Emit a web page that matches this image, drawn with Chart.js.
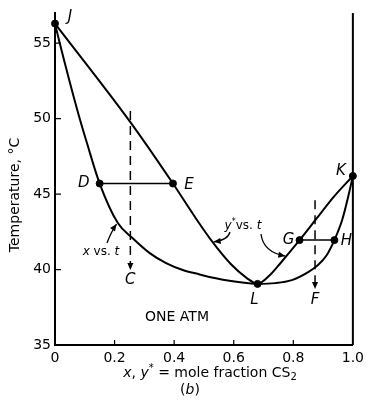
<!DOCTYPE html>
<html>
<head>
<meta charset="utf-8">
<script src="https://cdn.jsdelivr.net/npm/chart.js@4"></script>
<style>
  body { margin: 0; background: #fff; }
  #wrap { width: 369px; height: 408px; }
</style>
</head>
<body>
<div id="wrap"><canvas id="chart"></canvas></div>
<script>
// liquid curve (x vs. t)
const xLiquid = [0, 0.016, 0.075, 0.107, 0.15, 0.211, 0.26, 0.318, 0.373, 0.429, 0.481, 0.536, 0.591, 0.643, 0.68, 0.74, 0.795, 0.85, 0.883, 0.912, 0.938, 0.964, 0.984, 1.0];
const tLiquid = [56.3, 55.0, 50.56, 48.4, 45.7, 43.08, 42.09, 41.09, 40.43, 39.97, 39.7, 39.44, 39.24, 39.11, 39.05, 39.1, 39.3, 39.83, 40.3, 40.95, 41.95, 43.28, 44.8, 46.2];
// vapor curve (y* vs. t)
const xVapor = [0, 0.253, 0.396, 0.471, 0.526, 0.591, 0.643, 0.68, 0.72, 0.76, 0.821, 0.877, 0.935, 1.0];
const tVapor = [56.3, 49.77, 45.7, 43.45, 41.9, 40.35, 39.45, 39.05, 39.6, 40.5, 41.95, 43.35, 44.8, 46.2];
// named points
const pointNames = ["J", "D", "E", "G", "H", "K", "L"];
const pointX = [0, 0.15, 0.396, 0.821, 0.938, 1.0, 0.68];
const pointT = [56.3, 45.7, 45.7, 41.95, 41.95, 46.2, 39.05];
// feed lines C and F
const feedCX = [0.253, 0.253];
const feedCT = [50.5, 40.1];
const feedFX = [0.873, 0.873];
const feedFT = [44.6, 38.85];
// ticks
const xTicks = [0, 0.2, 0.4, 0.6, 0.8, 1.0];
const xTickLabels = ["0", "0.2", "0.4", "0.6", "0.8", "1.0"];
const tTicks = [35, 40, 45, 50, 55];
const tTickLabels = ["35", "40", "45", "50", "55"];

const pts = (xs, ys) => xs.map((v, i) => ({ x: v, y: ys[i] }));
const FONT = "'DejaVu Sans', Arial, sans-serif";

function line(data, extra) {
  return Object.assign({
    data: data, showLine: true, borderColor: "#000", borderWidth: 2,
    pointRadius: 0, fill: false, clip: 6
  }, extra || {});
}

function arrowHead(ctx, x, y, ang) {
  const l = 7, w = 3;
  ctx.beginPath();
  ctx.moveTo(x, y);
  ctx.lineTo(x - l * Math.cos(ang) + w * Math.sin(ang), y - l * Math.sin(ang) - w * Math.cos(ang));
  ctx.lineTo(x - l * Math.cos(ang) - w * Math.sin(ang), y - l * Math.sin(ang) + w * Math.cos(ang));
  ctx.closePath();
  ctx.fill();
}

function curvedArrow(ctx, x0, y0, cx, cy, x1, y1) {
  ctx.beginPath();
  ctx.moveTo(x0, y0);
  ctx.quadraticCurveTo(cx, cy, x1, y1);
  ctx.stroke();
  arrowHead(ctx, x1, y1, Math.atan2(y1 - cy, x1 - cx));
}

// draws pieces [text, style] one after another, centred on cx
function richText(ctx, parts, cx, cy, size) {
  const fontOf = p => (p[1] === "i" ? "italic " : "") + (p[1] === "sup" || p[1] === "sub" ? Math.round(size * 0.7) : size) + "px " + FONT;
  let total = 0;
  parts.forEach(p => { ctx.font = fontOf(p); total += ctx.measureText(p[0]).width; });
  let xx = cx - total / 2;
  ctx.textAlign = "left";
  ctx.textBaseline = "middle";
  parts.forEach(p => {
    ctx.font = fontOf(p);
    let dy = 0;
    if (p[1] === "sup") dy = -size * 0.35;
    if (p[1] === "sub") dy = size * 0.3;
    ctx.fillText(p[0], xx, cy + dy);
    xx += ctx.measureText(p[0]).width;
  });
}

const overlay = {
  id: "overlay",
  afterDraw(chart) {
    const { ctx, chartArea: a, scales: { x, y } } = chart;
    const px = v => x.getPixelForValue(v), py = v => y.getPixelForValue(v);
    ctx.save();
    ctx.strokeStyle = "#000";
    ctx.fillStyle = "#000";

    // right frame line
    ctx.lineWidth = 2;
    ctx.beginPath();
    ctx.moveTo(a.right, a.top);
    ctx.lineTo(a.right, a.bottom);
    ctx.stroke();

    // inward ticks
    ctx.lineWidth = 1.2;
    ctx.beginPath();
    xTicks.slice(1, -1).forEach(v => { ctx.moveTo(px(v), a.bottom); ctx.lineTo(px(v), a.bottom - 5); });
    tTicks.slice(1).forEach(v => { ctx.moveTo(a.left, py(v)); ctx.lineTo(a.left + 6, py(v)); });
    ctx.stroke();

    // arrowheads at the feed lines
    arrowHead(ctx, px(feedCX[1]), py(feedCT[1]) + 2, Math.PI / 2);
    arrowHead(ctx, px(feedFX[1]), py(feedFT[1]) + 2, Math.PI / 2);

    // point letters
    const offs = { J: [15, -6], D: [-16, 0], E: [16, 2], G: [-11, 0], H: [12, 1], K: [-12, -5], L: [-3, 16] };
    ctx.font = "italic 15px " + FONT;
    ctx.textAlign = "center";
    ctx.textBaseline = "middle";
    pointNames.forEach((n, i) => {
      ctx.fillText(n, px(pointX[i]) + offs[n][0], py(pointT[i]) + offs[n][1]);
    });
    ctx.fillText("C", px(feedCX[1]), py(feedCT[1]) + 12);
    ctx.fillText("F", px(feedFX[1]), py(feedFT[1]) + 13);

    // curve annotations
    richText(ctx, [["x", "i"], [" vs. ", ""], ["t", "i"]], 101, 252, 12);
    richText(ctx, [["y", "i"], ["*", "sup"], ["vs. ", ""], ["t", "i"]], 243, 226, 12);
    ctx.lineWidth = 1.3;
    curvedArrow(ctx, 107, 243, 111, 232, px(0.21) - 1, py(43.08) + 1);
    curvedArrow(ctx, 230, 232, 228, 240, px(0.526) + 2, py(41.9) + 1);
    curvedArrow(ctx, 261, 234, 263, 252, px(0.78) - 2, py(40.96) + 1);

    ctx.font = "14px " + FONT;
    ctx.textAlign = "center";
    ctx.fillText("ONE ATM", 177, 317);

    // axis titles
    ctx.save();
    ctx.translate(15, 195);
    ctx.rotate(-Math.PI / 2);
    ctx.font = "14px " + FONT;
    ctx.fillText("Temperature, \u00B0C", 0, 0);
    ctx.restore();
    richText(ctx, [["x", "i"], [", ", ""], ["y", "i"], ["*", "sup"], [" = mole fraction CS", ""], ["2", "sub"]], 210, 373, 14);
    richText(ctx, [["(", ""], ["b", "i"], [")", ""]], 190, 390, 14);
    ctx.restore();
  }
};

new Chart(document.getElementById("chart"), {
  type: "scatter",
  data: {
    datasets: [
      line(pts(xLiquid, tLiquid), { cubicInterpolationMode: "monotone" }),
      line(pts(xVapor, tVapor), { cubicInterpolationMode: "monotone" }),
      line(pts([pointX[1], pointX[2]], [pointT[1], pointT[2]]), { borderWidth: 1.5 }),
      line(pts([pointX[3], pointX[4]], [pointT[3], pointT[4]]), { borderWidth: 1.5 }),
      line(pts(feedCX, feedCT), { borderWidth: 1.5, borderDash: [9, 6] }),
      line(pts(feedFX, feedFT), { borderWidth: 1.5, borderDash: [9, 6] }),
      { data: pts(pointX, pointT), pointRadius: 3.5, pointBackgroundColor: "#000", pointBorderColor: "#000", showLine: false, clip: 8 }
    ]
  },
  options: {
    responsive: true,
    maintainAspectRatio: false,
    animation: false,
    events: [],
    layout: { padding: { top: 13, right: 6, left: 0, bottom: 0 } },
    plugins: { legend: { display: false }, tooltip: { enabled: false } },
    scales: {
      x: {
        type: "linear", min: 0, max: 1,
        afterBuildTicks: s => { s.ticks = xTicks.map(v => ({ value: v })); },
        afterFit: s => { s.height = 63; },
        ticks: { callback: (v, i) => xTickLabels[i], color: "#000", padding: 5, maxRotation: 0, font: { family: FONT, size: 14 } },
        grid: { display: true, drawOnChartArea: false, drawTicks: false },
        border: { display: true, color: "#000", width: 2 }
      },
      y: {
        type: "linear", min: 35, max: 57,
        afterBuildTicks: s => { s.ticks = tTicks.map(v => ({ value: v })); },
        afterFit: s => { s.width = 55; },
        ticks: { callback: (v, i) => tTickLabels[i], color: "#000", padding: 4, font: { family: FONT, size: 14 } },
        grid: { display: true, drawOnChartArea: false, drawTicks: false },
        border: { display: true, color: "#000", width: 2 }
      }
    }
  },
  plugins: [overlay]
});
</script>
</body>
</html>
